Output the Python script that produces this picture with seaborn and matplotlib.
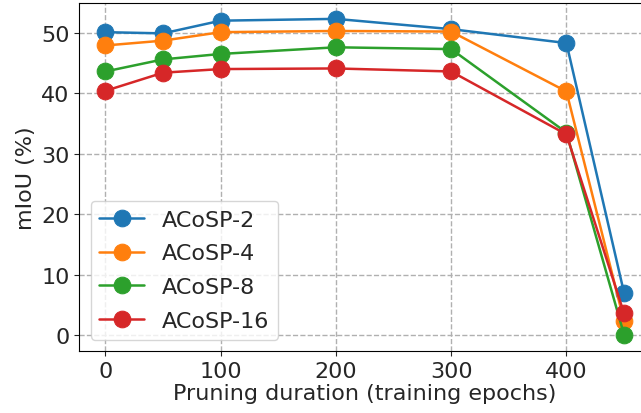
import matplotlib
matplotlib.use("Agg")
import matplotlib.pyplot as plt
import seaborn as sns
import pandas as pd

epochs = [0, 50, 100, 200, 300, 400, 450]
acosp2 = [50.1, 49.9, 52.0, 52.3, 50.6, 48.3, 7.0]
acosp4 = [47.9, 48.7, 50.1, 50.3, 50.2, 40.3, 2.3]
acosp8 = [43.6, 45.6, 46.5, 47.6, 47.3, 33.5, 0.1]
acosp16 = [40.4, 43.4, 44.0, 44.1, 43.6, 33.2, 3.6]
labels = ["ACoSP-2", "ACoSP-4", "ACoSP-8", "ACoSP-16"]
colors = ["#1f77b4", "#ff7f0e", "#2ca02c", "#d62728"]

sns.set_style("ticks")
plt.rcParams['font.family'] = ['DejaVu Sans']

fig = plt.figure(figsize=(6.41, 4.14), dpi=100)
ax = fig.add_axes([0.124, 0.150, 0.890, 0.840])

for lab, vals, c in zip(labels, [acosp2, acosp4, acosp8, acosp16], colors):
    df = pd.DataFrame({"x": epochs, "y": vals})
    sns.lineplot(data=df, x="x", y="y", ax=ax, color=c, marker="o",
                 markersize=12, markeredgecolor=c, linewidth=1.8, label=lab)

ax.set_xlim(-22.5, 472.5)
ax.set_ylim(-2.6, 54.9)
ax.set_xticks([0, 100, 200, 300, 400])
ax.set_yticks([0, 10, 20, 30, 40, 50])
ax.grid(True, linestyle="--", color="#b0b0b0", linewidth=1.0)
ax.set_axisbelow(True)
ax.tick_params(labelsize=16)
ax.set_xlabel("Pruning duration (training epochs)", fontsize=16, labelpad=2)
ax.set_ylabel("mIoU (%)", fontsize=16, labelpad=4)
for s in ax.spines.values():
    s.set_color("black")
ax.legend(loc="lower left", fontsize=16, bbox_to_anchor=(0.0, 0.0),
          labelspacing=0.62)

fig.savefig("out.png", dpi=100)
